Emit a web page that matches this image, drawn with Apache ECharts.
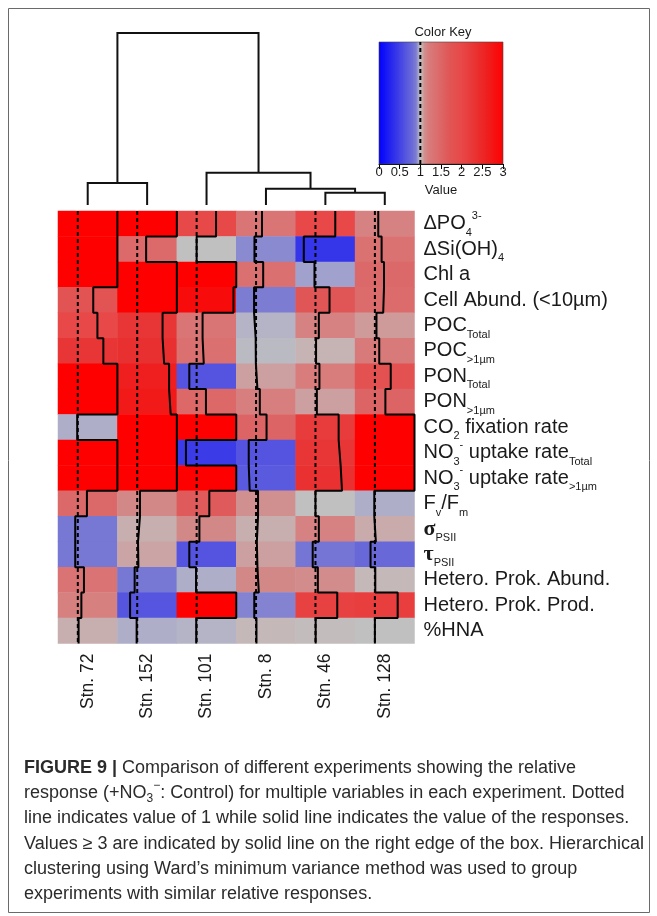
<!DOCTYPE html>
<html><head><meta charset="utf-8">
<script src="https://cdn.jsdelivr.net/npm/echarts@6/dist/echarts.min.js"></script>
<style>html,body{margin:0;padding:0;background:#fff}#c{width:657px;height:916px}</style>
</head><body><div id="c"></div>
<script>
// ---------------- data ----------------
const stations = ['Stn. 72', 'Stn. 152', 'Stn. 101', 'Stn. 8', 'Stn. 46', 'Stn. 128'];
const rowNames = ['dPO4', 'dSiOH4', 'Chl a', 'Cell Abund. (<10um)', 'POC Total', 'POC >1um',
  'PON Total', 'PON >1um', 'CO2 fixation rate', 'NO3 uptake rate Total', 'NO3 uptake rate >1um',
  'Fv/Fm', 'sigma PSII', 'tau PSII', 'Hetero. Prok. Abund.', 'Hetero. Prok. Prod.', '%HNA'];
const rowLabels = [
  '{m|ΔPO}{sub|4}{sup|3-}',
  '{m|ΔSi(OH)}{sub|4}',
  '{m|Chl a}',
  '{m|Cell Abund. (<10µm)}',
  '{m|POC}{sub|Total}',
  '{m|POC}{sub|>1µm}',
  '{m|PON}{sub|Total}',
  '{m|PON}{sub|>1µm}',
  '{m|CO}{sub|2}{m| fixation rate}',
  '{m|NO}{sub|3}{sup|-}{m| uptake rate}{sub|Total}',
  '{m|NO}{sub|3}{sup|-}{m| uptake rate}{sub|>1µm}',
  '{m|F}{sub|v}{m|/F}{sub|m}',
  '{g|σ}{sub|PSII}',
  '{g|τ}{sub|PSII}',
  '{m|Hetero. Prok. Abund.}',
  '{m|Hetero. Prok. Prod.}',
  '{m|%HNA}'
];
// relative response (+NO3 : Control); values >= 3 stored as 3
const stn72  = [3, 3, 3, 1.78, 1.99, 2.29, 3, 3, 0.97, 3, 3, 1.46, 0.87, 0.87, 1.31, 1.18, 1.04];
const stn152 = [3, 1.45, 3, 3, 2.28, 2.36, 2.61, 2.69, 3, 3, 3, 1.14, 1.04, 1.06, 0.87, 0.64, 0.97];
const stn101 = [1.98, 1.0, 3, 2.86, 1.30, 1.36, 0.63, 1.47, 3, 0.46, 3, 1.64, 1.14, 0.63, 0.97, 3, 0.98];
const stn8   = [1.30, 0.92, 1.36, 0.90, 0.98, 0.99, 1.07, 1.19, 1.53, 0.63, 0.68, 1.10, 1.04, 1.07, 1.14, 0.91, 1.02];
const stn46  = [2.0, 0.41, 0.95, 1.71, 1.17, 1.03, 1.20, 1.07, 2.17, 2.27, 2.34, 1.0, 1.17, 0.86, 1.12, 2.1, 1.01];
const stn128 = [1.17, 1.34, 1.46, 1.42, 1.08, 1.22, 1.80, 1.53, 3, 3, 3, 0.97, 1.05, 0.78, 1.02, 2.15, 1.0];
const responses = [stn72, stn152, stn101, stn8, stn46, stn128];

// dendrogram (Ward clustering): merge i joins mergeLeft[i] and mergeRight[i] at mergeHeight[i]
const mergeIds    = ['A', 'B', 'C', 'D', 'E'];
const mergeLeft   = ['Stn. 72', 'Stn. 46', 'Stn. 8', 'Stn. 101', 'A'];
const mergeRight  = ['Stn. 152', 'Stn. 128', 'B', 'C', 'D'];
const mergeHeight = [1.79, 1.0, 1.33, 2.63, 14.0];

const keyTicks = [0, 0.5, 1, 1.5, 2, 2.5, 3];
const keyMin = 0, keyMax = 3, refValue = 1;

const captionLines = [
  '{b|FIGURE 9 |}{n| Comparison of different experiments showing the relative}',
  '{n|response (+NO}{s|3}{p|−}{n|: Control) for multiple variables in each experiment. Dotted}',
  '{n|line indicates value of 1 while solid line indicates the value of the responses.}',
  '{n|Values ≥ 3 are indicated by solid line on the right edge of the box. Hierarchical}',
  '{n|clustering using Ward’s minimum variance method was used to group}',
  '{n|experiments with similar relative responses.}'
];

// ---------------- styling ----------------
const colorStops = [
  [0, '#0000ff'], [0.45, '#3a3ae8'], [0.65, '#5656e0'], [0.8, '#6a6ad8'], [0.9, '#7c7cd2'],
  [0.96, '#a8a8cc'], [1.0, '#c0c0c0'], [1.04, '#c8b0b0'], [1.1, '#d09090'], [1.2, '#d87c7c'],
  [1.45, '#dc6a6a'], [1.7, '#e05656'], [2.0, '#e84848'], [2.3, '#e83434'], [2.65, '#f01c1c'],
  [2.9, '#fa0808'], [3.0, '#ff0000']
];
function hex2rgb(h) { return [1, 3, 5].map(i => parseInt(h.substr(i, 2), 16)); }
function colorAt(v) {
  for (let i = 1; i < colorStops.length; i++) {
    if (v <= colorStops[i][0]) {
      const [v0, c0] = colorStops[i - 1], [v1, c1] = colorStops[i];
      const t = (v - v0) / (v1 - v0), a = hex2rgb(c0), b = hex2rgb(c1);
      return 'rgb(' + a.map((x, k) => Math.round(x + (b[k] - x) * t)).join(',') + ')';
    }
  }
  return colorStops[colorStops.length - 1][1];
}
const rampColors = [];
for (let i = 0; i <= 120; i++) rampColors.push(colorAt(keyMin + (keyMax - keyMin) * i / 120));

const FONT = 'Liberation Sans, Arial, Helvetica, sans-serif';
const HM = { left: 58, top: 211, width: 356.5, height: 432.5 };
const DG = { left: 58, top: 33, width: 356.5, height: 172 };
const KY = { left: 379, top: 42, width: 124, height: 122 };

// ---------------- build series data ----------------
const heatData = [];
responses.forEach((arr, c) => arr.forEach((v, r) => heatData.push([c, r, v])));

const nStations = stations.length, nRows = rowNames.length;
const traceSeries = responses.map((arr, c) => {
  const d = [];
  arr.forEach((v, r) => { const x = c * 3 + Math.min(v, 3); d.push([x, r], [x, r + 1]); });
  return {
    type: 'line', xAxisIndex: 1, yAxisIndex: 1, data: d, symbol: 'none', clip: false,
    lineStyle: { color: '#000', width: 2 }, silent: true, z: 4
  };
});
const refSeries = stations.map((s, c) => ({
  type: 'line', xAxisIndex: 1, yAxisIndex: 1, data: [[c * 3 + refValue, 0], [c * 3 + refValue, nRows]],
  symbol: 'none', clip: false, lineStyle: { color: '#000', width: 2, type: [4, 3] }, silent: true, z: 3
}));

// dendrogram positions
const pos = {};
stations.forEach((s, i) => pos[s] = [i + 0.5, 0]);
const dendroLinks = [];
mergeIds.forEach((id, i) => {
  const L = pos[mergeLeft[i]], R = pos[mergeRight[i]], h = mergeHeight[i];
  dendroLinks.push({ coords: [[L[0], L[1]], [L[0], h], [R[0], h], [R[0], R[1]]] });
  pos[id] = [(L[0] + R[0]) / 2, h];
});

const option = {
  backgroundColor: '#fff',
  animation: false,
  grid: [
    { left: HM.left, top: HM.top, width: HM.width, height: HM.height },
    { left: DG.left, top: DG.top, width: DG.width, height: DG.height },
    { left: KY.left, top: KY.top, width: KY.width, height: KY.height }
  ],
  xAxis: [
    { type: 'category', gridIndex: 0, data: stations, position: 'bottom',
      axisLine: { show: false }, axisTick: { show: false }, splitLine: { show: false },
      axisLabel: { rotate: 90, fontSize: 17.5, color: '#1a1a1a', fontFamily: FONT, margin: 10, interval: 0 } },
    { type: 'value', gridIndex: 0, min: 0, max: nStations * 3, show: false },
    { type: 'value', gridIndex: 1, min: 0, max: nStations, show: false },
    { type: 'value', gridIndex: 2, min: keyMin, max: keyMax, interval: 0.5, position: 'bottom',
      axisLine: { show: true, lineStyle: { color: '#000', width: 1 } },
      axisTick: { show: true, length: 5, lineStyle: { color: '#000' } },
      splitLine: { show: false },
      axisLabel: { fontSize: 13, color: '#1a1a1a', fontFamily: FONT, margin: 2, hideOverlap: false,
        showMinLabel: true, showMaxLabel: true,
        formatter: v => keyTicks.indexOf(v) >= 0 ? String(v) : '' },
      name: 'Value', nameLocation: 'middle', nameGap: 20,
      nameTextStyle: { fontSize: 13, color: '#1a1a1a', fontFamily: FONT } }
  ],
  yAxis: [
    { type: 'category', gridIndex: 0, data: rowNames, inverse: true, position: 'right',
      axisLine: { show: false }, axisTick: { show: false }, splitLine: { show: false },
      axisLabel: {
        interval: 0, margin: 9, color: '#1a1a1a', fontFamily: FONT,
        formatter: (v, i) => rowLabels[i],
        rich: {
          m: { fontSize: 20, fontFamily: FONT, color: '#1a1a1a', lineHeight: 26 },
          g: { fontSize: 22, fontFamily: 'Liberation Serif, DejaVu Serif, serif', fontWeight: 'bold', color: '#1a1a1a', lineHeight: 26 },
          sub: { fontSize: 11, fontFamily: FONT, color: '#1a1a1a', lineHeight: 11, padding: [18, 0, 0, 0] },
          sup: { fontSize: 11, fontFamily: FONT, color: '#1a1a1a', lineHeight: 11, padding: [0, 0, 16, 0] }
        }
      } },
    { type: 'value', gridIndex: 0, min: 0, max: nRows, inverse: true, show: false },
    { type: 'value', gridIndex: 1, min: 0, max: mergeHeight[mergeHeight.length - 1], show: false },
    { type: 'value', gridIndex: 2, min: 0, max: 1, show: false }
  ],
  visualMap: {
    type: 'continuous', show: false, seriesIndex: 0, dimension: 2,
    min: keyMin, max: keyMax, inRange: { color: rampColors }
  },
  series: [
    { type: 'heatmap', xAxisIndex: 0, yAxisIndex: 0, data: heatData, itemStyle: { borderWidth: 0 }, silent: true, z: 2 },
    ...refSeries,
    ...traceSeries,
    { type: 'lines', coordinateSystem: 'cartesian2d', xAxisIndex: 2, yAxisIndex: 2, polyline: true,
      data: dendroLinks, lineStyle: { color: '#111', width: 2, opacity: 1 }, silent: true },
    { type: 'line', xAxisIndex: 3, yAxisIndex: 3, data: [[refValue, 0], [refValue, 1]], symbol: 'none',
      lineStyle: { color: '#000', width: 2, type: [4, 3] }, silent: true, z: 5 }
  ],
  graphic: [
    { type: 'rect', z: 0, silent: true,
      shape: { x: 8.5, y: 8.5, width: 641, height: 904 },
      style: { fill: 'none', stroke: '#6a6a6a', lineWidth: 1 } },
    { type: 'rect', z: 1, silent: true,
      shape: { x: KY.left, y: KY.top, width: KY.width, height: KY.height },
      style: { fill: { type: 'linear', x: 0, y: 0, x2: 1, y2: 0,
        colorStops: rampColors.map((c, i) => ({ offset: i / (rampColors.length - 1), color: c })) },
        stroke: '#444', lineWidth: 0.6 } },
    { type: 'text', z: 5, silent: true,
      style: { x: KY.left + KY.width / 2 + 2, y: 32, text: 'Color Key', font: '13px ' + FONT, fill: '#1a1a1a',
        align: 'center', verticalAlign: 'middle' } },
    ...captionLines.map((t, i) => ({
      type: 'text', z: 5, silent: true,
      style: { x: 24, y: 767.7 + i * 25.3, text: t, verticalAlign: 'middle', align: 'left',
        rich: {
          b: { fontSize: 18, fontWeight: 'bold', fontFamily: FONT, fill: '#2b2b2b', lineHeight: 22 },
          n: { fontSize: 18, fontFamily: FONT, fill: '#2b2b2b', lineHeight: 22 },
          s: { fontSize: 12, fontFamily: FONT, fill: '#2b2b2b', lineHeight: 12, padding: [12, 0, 0, 0] },
          p: { fontSize: 12, fontFamily: FONT, fill: '#2b2b2b', lineHeight: 12, padding: [0, 0, 14, 0] }
        } }
    }))
  ]
};

const chart = echarts.init(document.getElementById('c'), null, { renderer: 'canvas' });
chart.setOption(option);
</script>
</body></html>
